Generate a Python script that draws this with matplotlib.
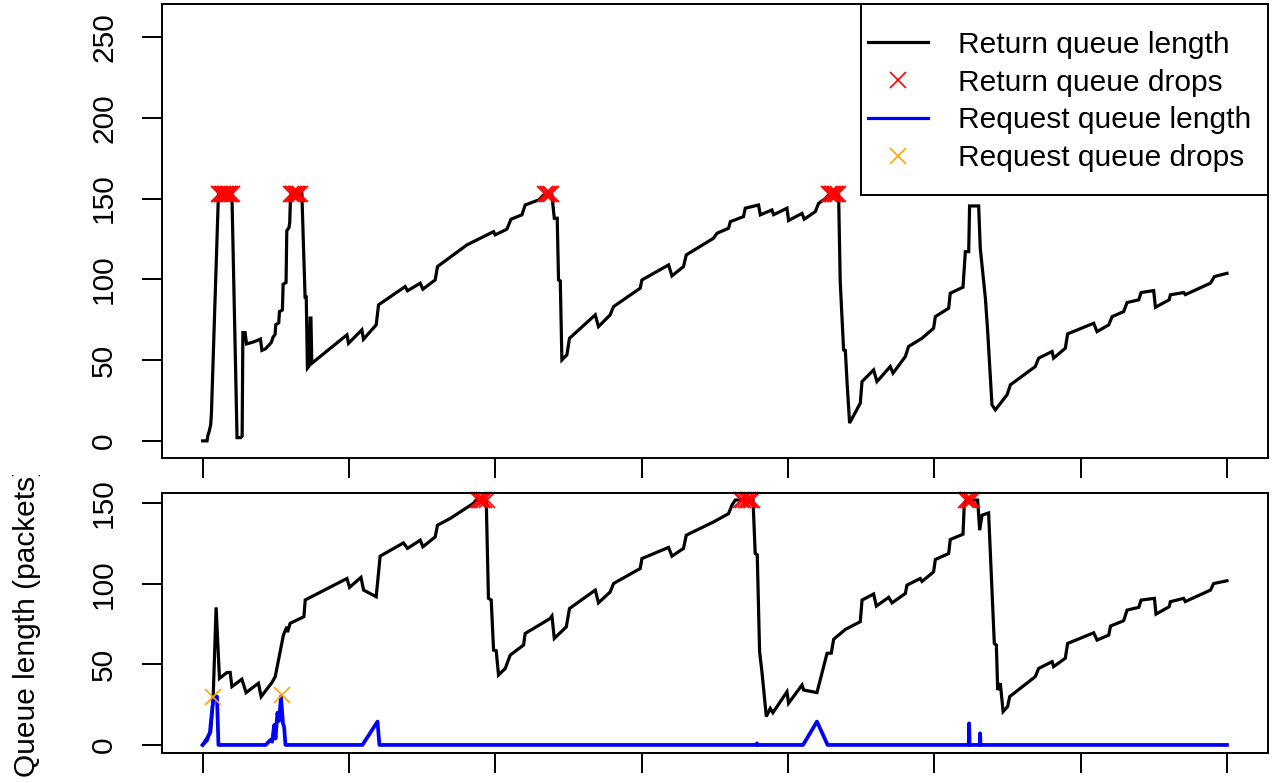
import matplotlib
matplotlib.use("Agg")
import matplotlib.pyplot as plt
from matplotlib.lines import Line2D
from matplotlib.patches import Rectangle
from matplotlib.transforms import Bbox

plt.rcParams['font.family'] = ['Liberation Sans', 'DejaVu Sans']

# ---------------- data ----------------
# Top panel: return queue length
ret1_x = [0.00, 0.30, 0.35, 0.45, 0.55, 0.60, 1.08, 2.00, 2.35, 2.60, 2.70, 2.75, 2.90, 3.00, 3.40,
          3.70, 3.95, 4.05, 4.30, 4.50, 4.70, 4.80, 4.95, 5.00, 5.20, 5.25, 5.45, 5.50, 5.70, 5.75,
          5.90, 5.95, 6.00, 6.05, 6.78, 7.00, 7.08, 7.16, 7.25, 7.35, 7.40, 7.46,
          9.86, 9.97, 10.88, 10.99, 11.86, 12.02, 13.84, 14.00, 14.87, 15.05, 15.89, 16.05,
          18.06, 18.97, 19.88, 19.99, 20.79, 21.07, 21.82, 22.04, 22.95, 23.07, 23.27, 23.87,
          24.03, 24.23, 24.32, 24.44, 24.55, 24.89, 25.07, 26.83, 27.05, 27.85, 28.08, 29.90,
          30.02, 31.84, 32.07, 32.86, 33.05, 34.91, 35.15, 35.94, 36.06, 36.96, 37.08, 37.99,
          38.11, 38.90, 39.02, 39.93, 40.04, 40.96, 41.11, 41.87, 42.09, 42.55, 42.75, 43.46,
          43.57, 43.80, 43.92, 44.04, 44.21, 44.94, 45.06, 45.85, 46.08, 46.99, 47.18, 48.02,
          48.24, 49.16, 49.95, 50.07, 50.98, 51.09, 51.96, 52.12, 52.35, 52.41, 53.03, 53.14,
          53.49, 53.64, 53.94, 54.17, 54.97, 55.20, 56.90, 57.13, 58.05, 58.15, 58.95, 59.11,
          60.89, 61.12, 61.92, 62.15, 62.94, 63.17, 63.97, 64.13, 64.99, 65.11, 66.05, 66.13,
          67.04, 67.15, 68.87, 69.14, 70.00]
ret1_y = [0, 0, 3, 6, 10, 17, 153, 153, 2, 2, 3, 67, 67, 60, 61,
          62, 63, 56, 57, 59, 61, 64, 66, 72, 73, 80, 81, 97, 98, 130,
          132, 135, 150, 153, 153, 89, 89, 45, 46, 76, 76, 48,
          65.6, 60.4, 68.7, 62.9, 71.8, 84.2, 95.5, 92.9, 97.6, 93.9, 99.6, 107.9,
          121.3, 125.4, 129.5, 127.5, 131.0, 137.2, 139.9, 146.0, 149.1, 150.0, 152.0, 152.0,
          137.8, 137.8, 99.6, 99.0, 50.1, 53.2, 63.5, 78.0, 70.7, 78.0, 83.1, 94.5,
          99.6, 108.9, 102.1, 107.9, 115.1, 125.4, 128.5, 131.6, 135.7, 138.8, 144.0, 146.0,
          139.9, 142.9, 140.0, 144.0, 136.4, 140.8, 137.2, 141.9, 147.0, 150.0, 152.0, 152.0,
          98.6, 56.3, 56.0, 35.7, 11.0, 23.3, 36.7, 43.9, 36.7, 46.0, 41.9, 52.2,
          58.4, 63.5, 69.7, 76.9, 82.1, 91.4, 95.1, 117.1, 117.1, 145.4, 145.4, 119.2,
          88.3, 68.7, 22.3, 19.2, 28.5, 34.7, 46.0, 51.2, 55.3, 51.2, 57.3, 66.2,
          72.8, 67.6, 71.8, 76.9, 80.0, 85.6, 87.3, 91.8, 93.0, 82.7, 87.3, 90.4,
          91.8, 90.5, 97.6, 101.7, 103.7]

drops1_x = [1.10, 1.20, 1.30, 1.40, 1.50, 1.60, 1.70, 1.80, 1.90, 2.00,
            6.05, 6.15, 6.25, 6.35, 6.45, 6.55, 6.65,
            23.40, 23.55, 23.70, 23.80,
            42.80, 42.90, 43.00, 43.10, 43.20, 43.30, 43.40]
drops1_y = [153] * len(drops1_x)

# Bottom panel: return queue length
ret2_x = [0.00, 0.55, 0.72, 0.92, 1.15, 1.65, 1.88, 2.00, 2.68, 2.97, 3.81, 4.00, 4.73, 4.96,
          5.52, 5.75, 5.80, 5.98, 6.92, 7.01, 9.86, 10.04, 10.82, 11.00, 11.86, 12.13, 13.72,
          14.00, 14.87, 15.05, 15.89, 16.05, 16.92, 18.51, 18.69, 19.38, 19.53, 19.72, 19.88,
          20.06, 20.22, 20.68, 21.02, 21.93, 22.04, 23.75, 23.87, 24.03, 24.85, 25.07, 26.83,
          27.05, 27.85, 28.08, 29.90, 30.02, 31.84, 32.07, 32.86, 33.05, 34.91, 35.94, 36.17,
          36.40, 37.61, 37.76, 37.90, 38.06, 38.22, 38.52, 38.79, 38.97, 39.93, 40.04, 40.96,
          41.07, 41.98, 42.67, 42.96, 43.12, 43.92, 44.94, 45.06, 45.85, 46.04, 46.88, 47.11,
          48.02, 48.13, 49.04, 49.16, 49.95, 50.07, 50.98, 51.09, 51.96, 52.05, 52.19, 52.96,
          53.10, 53.26, 53.71, 54.10, 54.24, 54.33, 54.51, 54.70, 55.01, 55.15, 56.90, 57.13,
          58.05, 58.15, 58.95, 59.11, 60.89, 61.12, 61.92, 62.04, 62.94, 63.17, 63.97, 64.13,
          65.04, 65.15, 66.05, 66.13, 67.04, 67.15, 68.87, 69.09, 70.00]
ret2_y = [0, 8, 30, 85.4, 41.3, 44.9, 45.0, 36.2, 40.8, 32.5, 38.3, 30.0, 38.7, 42.4,
          68.2, 73.3, 70.0, 75.5, 79.6, 90.0, 103.3, 97.8, 104.0, 96.1, 92.0, 117.2, 125.4,
          122.0, 127.1, 123.0, 129.1, 136.4, 140.6, 150.0, 152.0, 152.0, 91.0, 90.0, 58.9,
          58.5, 43.4, 47.5, 55.8, 62.0, 69.2, 78.5, 80.0, 66.1, 73.3, 84.7, 96.1,
          88.2, 95.0, 100.2, 109.5, 115.7, 122.6, 117.2, 122.0, 130.2, 138.4, 143.6, 148.8,
          152.0, 152.0, 118.8, 118.0, 57.9, 45.4, 17.6, 22.7, 20.0, 33.0, 25.9, 37.2,
          34.1, 32.5, 56.9, 57.0, 65.6, 71.7, 76.5, 89.9, 93.7, 86.2, 91.6, 88.2,
          94.0, 99.2, 103.3, 101.5, 107.4, 115.1, 118.8, 127.5, 130.8, 150.0, 152.0, 152.0,
          133.3, 142.6, 144.0, 63.0, 62.0, 34.1, 38.3, 20.7, 23.8, 30.0, 42.4, 47.5,
          51.7, 48.6, 53.8, 63.0, 69.6, 65.1, 68.2, 73.8, 77.1, 83.7, 85.4, 89.9,
          91.0, 81.2, 85.8, 88.9, 91.0, 89.0, 96.1, 100.2, 101.9]

drops2_x = [18.80, 18.95, 19.10, 19.25, 19.40,
            36.80, 36.95, 37.10, 37.25, 37.40, 37.55,
            52.15, 52.30, 52.45, 52.60]
drops2_y = [152] * len(drops2_x)

# Bottom panel: request queue length
req_x = [0.00, 0.10, 0.30, 0.50, 0.55, 0.75, 0.98, 1.08, 4.30, 4.42, 4.61, 4.75, 4.89, 4.98,
         5.11, 5.23, 5.35, 5.49, 5.57, 5.66, 10.92, 11.95, 12.08, 37.84, 37.88, 37.92,
         41.03, 41.98, 42.71, 52.35, 52.38, 52.41, 53.10, 53.13, 53.16, 70.00]
req_y = [0, 1, 3, 8, 13, 30, 30, 0, 0, 1, 3, 2, 12.4, 4,
         20, 15, 30, 13.4, 11, 0, 0, 14.5, 0, 0, 1, 0,
         0, 14.5, 0, 0, 13.4, 0, 0, 7.2, 0, 0]

req_drops_x = [0.74, 5.41]
req_drops_y = [30, 31]

x_ticks = [0, 10, 20, 30, 40, 50, 60, 70]
y_ticks_top = [0, 50, 100, 150, 200, 250]
y_ticks_bottom = [0, 50, 100, 150]

legend_labels = ["Return queue length", "Return queue drops",
                 "Request queue length", "Request queue drops"]

# ---------------- style ----------------
FS = 21.5
LW = 2.3
MS = 12
MEW = 1.2
RED = "#FF0000"
ORANGE = "#FFA500"
BLUE = "#0000FF"

fig = plt.figure(figsize=(12.76, 7.83), dpi=100)
ax1 = fig.add_axes([0.1267, 0.4155, 0.8670, 0.5794])
ax2 = fig.add_axes([0.1267, 0.0379, 0.8670, 0.3321])

for ax in (ax1, ax2):
    ax.set_xlim(-2.8, 72.8)
    ax.set_xticks(x_ticks)
    ax.set_xticklabels([])
    for s in ax.spines.values():
        s.set_linewidth(1.4)
    ax.tick_params(direction='out', length=14.4, width=1.4, labelsize=FS, pad=17)

ax1.set_ylim(-10.4, 270.4)
ax1.set_yticks(y_ticks_top)
ax2.set_ylim(-5.2, 156.2)
ax2.set_yticks(y_ticks_bottom)
for ax in (ax1, ax2):
    ax.set_yticklabels([str(v) for v in ax.get_yticks().astype(int)],
                       rotation=90, va='center', fontsize=FS)

ax1.plot(ret1_x, ret1_y, color='black', lw=LW, solid_joinstyle='miter')
ax1.plot(drops1_x, drops1_y, ls='none', marker='x', color=RED, ms=MS, mew=MEW)

ax2.plot(ret2_x, ret2_y, color='black', lw=LW, solid_joinstyle='miter')
ax2.plot(req_x, req_y, color=BLUE, lw=LW + 0.4)
ax2.plot(drops2_x, drops2_y, ls='none', marker='x', color=RED, ms=MS, mew=MEW, clip_on=False)
ax2.plot(req_drops_x, req_drops_y, ls='none', marker='x', color=ORANGE, ms=MS, mew=MEW)

# legend (R-style box: frame drawn as a rectangle, entries placed inside)
frame = Rectangle((0.6321, 0.5790), 0.3679, 0.4210, transform=ax1.transAxes,
                  facecolor='white', edgecolor='black', lw=1.4, zorder=4)
ax1.add_patch(frame)
handles = [Line2D([], [], color='black', lw=LW),
           Line2D([], [], ls='none', marker='x', color=RED, ms=MS, mew=MEW),
           Line2D([], [], color=BLUE, lw=LW),
           Line2D([], [], ls='none', marker='x', color=ORANGE, ms=MS, mew=MEW)]
leg = ax1.legend(handles, legend_labels, loc='center left', bbox_to_anchor=(0.6384, 0.7851),
                 borderaxespad=0, borderpad=0, frameon=False,
                 fontsize=FS, handlelength=2.0, handletextpad=1.0,
                 labelspacing=0.33)
leg.set_zorder(5)

ylab = fig.text(27.5 / 1276, 1 - 466 / 783, "Queue length (packets)", rotation=90,
                rotation_mode='anchor', ha='right', va='center', fontsize=FS)
ylab.set_clip_box(Bbox.from_extents(0, 0, 200, 783 - 475))
ylab.set_clip_on(True)

fig.savefig('out.png', dpi=100)
